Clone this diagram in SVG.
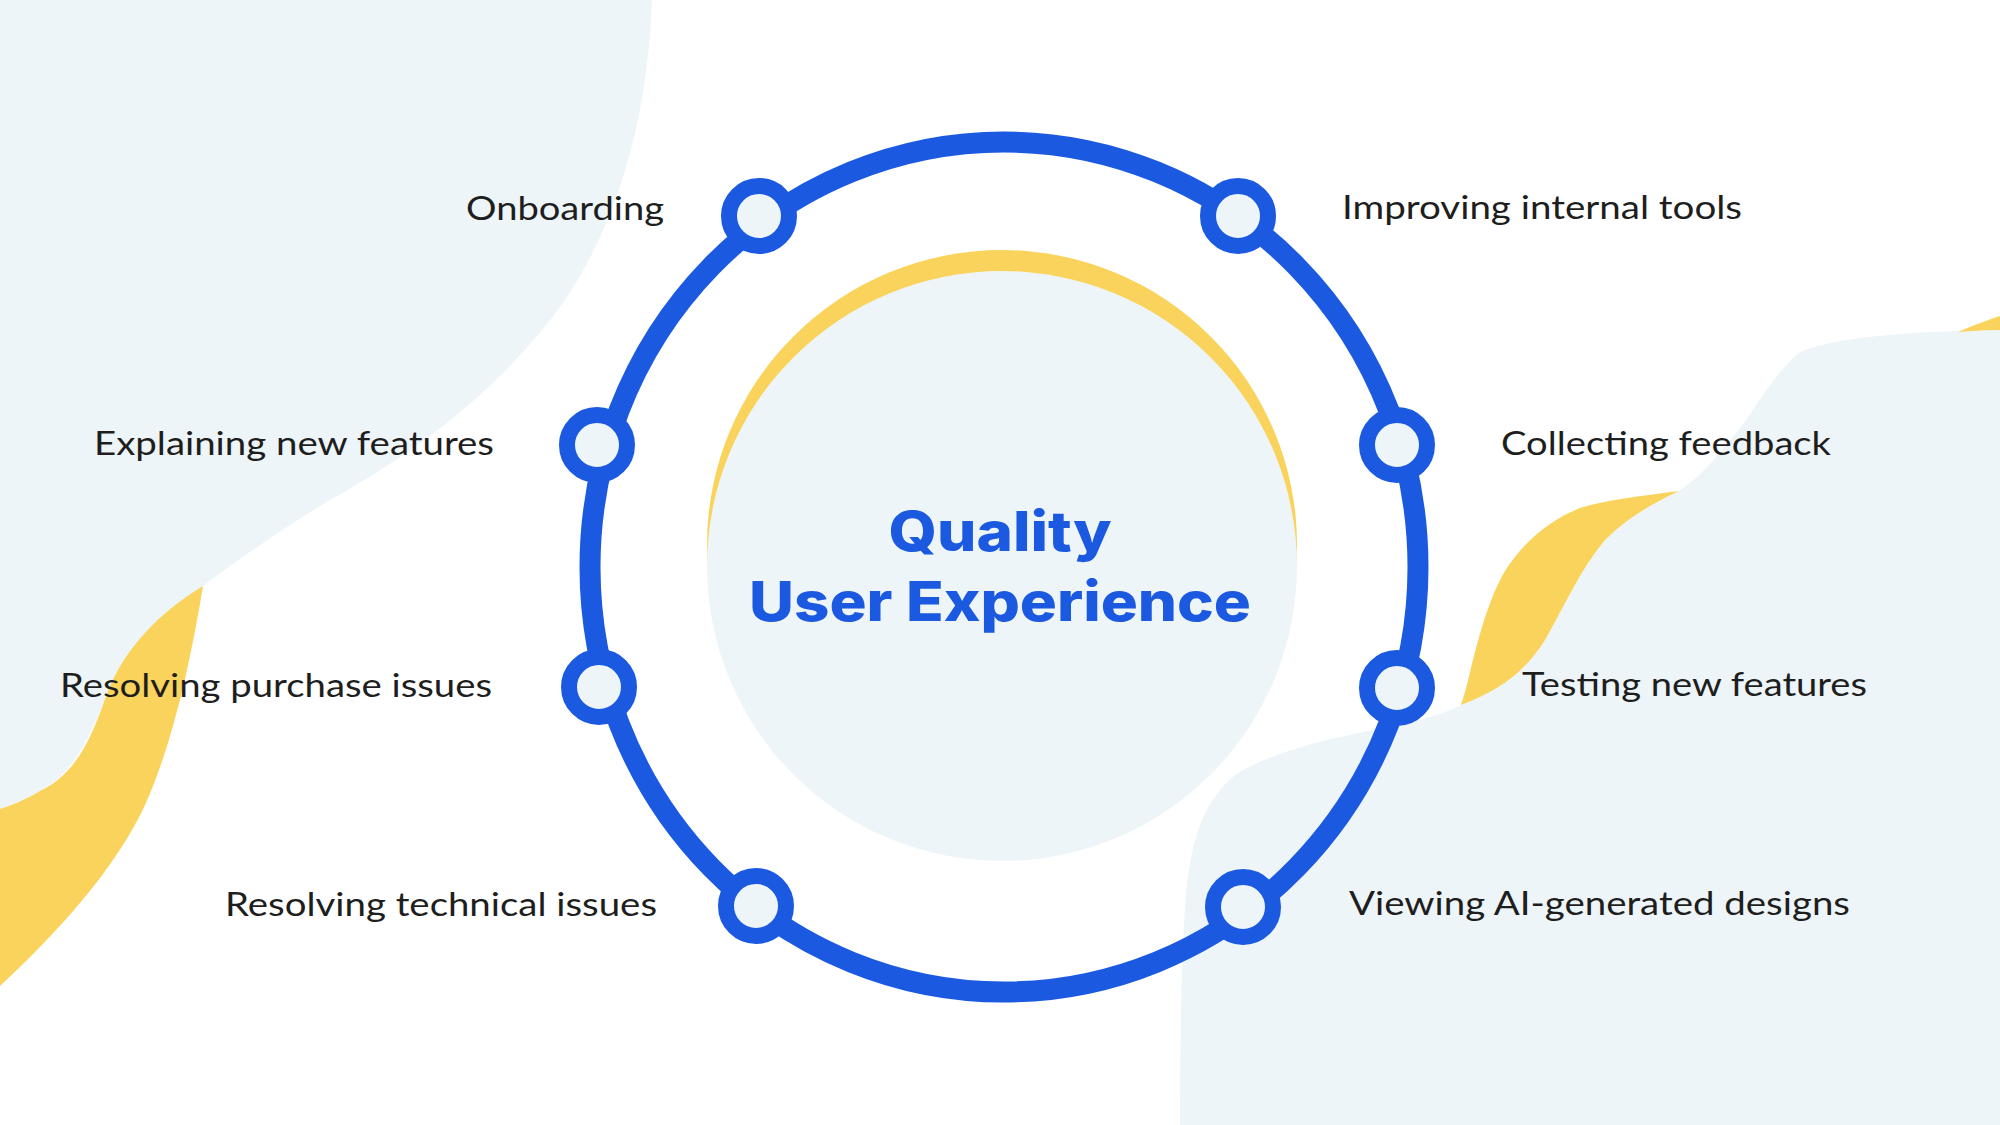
<svg xmlns="http://www.w3.org/2000/svg" width="2000" height="1125" viewBox="0 0 2000 1125">
  <style>
    .blob { fill: #EEF5F8; }
    .yellow { fill: #F9D35B; }
    .ring { fill: none; stroke: #1B5AE0; stroke-width: 21; }
    .node { fill: #EEF5F8; stroke: #1B5AE0; stroke-width: 16; }
    .label { font-family: "Lato", "Liberation Sans", sans-serif; font-size: 33px; fill: #1E1E1E; }
    .title { font-family: "Inter", "Liberation Sans", sans-serif; font-weight: 800; font-size: 55px; fill: #1B5AE0; text-anchor: middle; }
  </style>
  <rect x="0" y="0" width="2000" height="1125" fill="#FFFFFF"/>

  <g id="background">
    <path class="blob" d="M0,0 H652 C648,110 622,215 565,300 C505,385 420,450 330,500 C285,527 240,558 203,586 C150,620 122,655 108,691 C92,735 72,775 40,791 C25,800 12,805 0,809 Z"/>
    <path class="yellow" d="M203,586 C160,612 125,648 108,691 C94,730 80,772 40,791 C25,800 12,805 0,809 L0,986 C55,935 115,870 145,805 C172,745 190,665 203,586 Z"/>
    <path class="blob" d="M2000,330 L2000,1125 L1180,1125 C1180,1040 1181,960 1186,893 C1192,835 1205,800 1235,775 C1270,752 1330,738 1397,725 C1430,718 1448,712 1461,705 C1500,690 1525,672 1545,640 C1565,605 1580,570 1605,540 C1630,515 1660,500 1679,491 C1700,478 1725,448 1746,420 C1765,393 1780,368 1800,352 C1840,335 1930,331 2000,330 Z"/>
    <path class="yellow" d="M1679,491 C1640,496 1605,500 1580,508 C1545,522 1522,545 1505,571 C1488,600 1478,640 1470,672 C1466,690 1463,698 1461,705 C1500,690 1525,672 1545,640 C1565,605 1580,570 1605,540 C1630,515 1660,500 1679,491 Z"/>
    <path class="yellow" d="M1958,332 C1972,326 1988,320 2000,316 L2000,330 C1985,330 1970,331 1958,332 Z"/>
  </g>

  <g id="center">
    <circle class="yellow" cx="1002" cy="545" r="295"/>
    <circle class="blob" cx="1002" cy="566" r="295"/>
    <text class="title" x="1000" y="551" textLength="223" lengthAdjust="spacingAndGlyphs">Quality</text>
    <text class="title" x="1000" y="621" textLength="502" lengthAdjust="spacingAndGlyphs">User Experience</text>
  </g>

  <g id="connectors">
    <ellipse class="ring" cx="1004" cy="567" rx="414" ry="425"/>
  </g>

  <g id="node-onboarding">
    <circle class="node" cx="759" cy="216" r="30"/>
    <text class="label" x="664" y="220" text-anchor="end" textLength="198" lengthAdjust="spacingAndGlyphs">Onboarding</text>
  </g>
  <g id="node-improving">
    <circle class="node" cx="1238" cy="216" r="30"/>
    <text class="label" x="1342" y="219" textLength="400" lengthAdjust="spacingAndGlyphs">Improving internal tools</text>
  </g>
  <g id="node-explaining">
    <circle class="node" cx="597" cy="445" r="30"/>
    <text class="label" x="494" y="455" text-anchor="end" textLength="400" lengthAdjust="spacingAndGlyphs">Explaining new features</text>
  </g>
  <g id="node-collecting">
    <circle class="node" cx="1397" cy="445" r="30"/>
    <text class="label" x="1501" y="455" textLength="330" lengthAdjust="spacingAndGlyphs">Collecting feedback</text>
  </g>
  <g id="node-purchase">
    <circle class="node" cx="599" cy="687" r="30"/>
    <text class="label" x="492" y="697" text-anchor="end" textLength="432" lengthAdjust="spacingAndGlyphs">Resolving purchase issues</text>
  </g>
  <g id="node-testing">
    <circle class="node" cx="1397" cy="688" r="30"/>
    <text class="label" x="1522" y="696" textLength="345" lengthAdjust="spacingAndGlyphs">Testing new features</text>
  </g>
  <g id="node-technical">
    <circle class="node" cx="756" cy="906" r="30"/>
    <text class="label" x="657" y="916" text-anchor="end" textLength="432" lengthAdjust="spacingAndGlyphs">Resolving technical issues</text>
  </g>
  <g id="node-viewing">
    <circle class="node" cx="1243" cy="907" r="30"/>
    <text class="label" x="1349" y="915" textLength="501" lengthAdjust="spacingAndGlyphs">Viewing AI-generated designs</text>
  </g>
</svg>
